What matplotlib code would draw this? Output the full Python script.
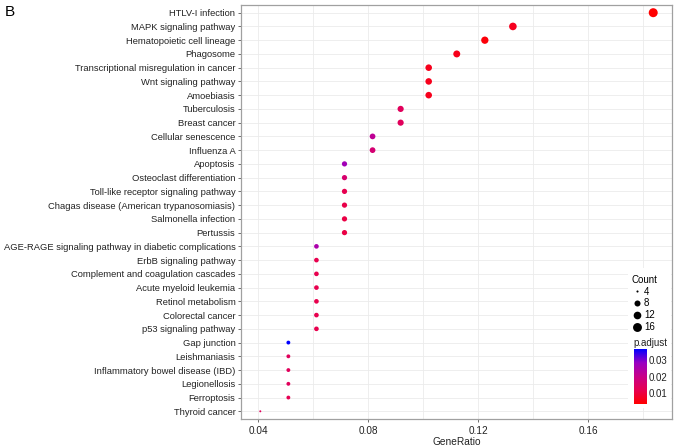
import numpy as np
import matplotlib
matplotlib.use("Agg")
from matplotlib import pyplot as plt
from matplotlib.colors import LinearSegmentedColormap, Normalize
from matplotlib.lines import Line2D

plt.rcParams['font.family'] = ['Liberation Sans', 'DejaVu Sans']

terms = ["HTLV-I infection", "MAPK signaling pathway", "Hematopoietic cell lineage",
         "Phagosome", "Transcriptional misregulation in cancer", "Wnt signaling pathway",
         "Amoebiasis", "Tuberculosis", "Breast cancer", "Cellular senescence",
         "Influenza A", "Apoptosis", "Osteoclast differentiation",
         "Toll-like receptor signaling pathway", "Chagas disease (American trypanosomiasis)",
         "Salmonella infection", "Pertussis",
         "AGE-RAGE signaling pathway in diabetic complications", "ErbB signaling pathway",
         "Complement and coagulation cascades", "Acute myeloid leukemia",
         "Retinol metabolism", "Colorectal cancer", "p53 signaling pathway",
         "Gap junction", "Leishmaniasis", "Inflammatory bowel disease (IBD)",
         "Legionellosis", "Ferroptosis", "Thyroid cancer"]
counts = [18, 13, 12, 11, 10, 10, 10, 9, 9, 8, 8, 7, 7, 7, 7, 7, 7,
          6, 6, 6, 6, 6, 6, 6, 5, 5, 5, 5, 5, 4]
gene_total = 98
p_adjust = [0.0033, 0.0066, 0.0043, 0.0060, 0.0063, 0.0063, 0.0063, 0.0133, 0.0133,
            0.0217, 0.0167, 0.0267, 0.0160, 0.0117, 0.0110, 0.0105, 0.0105,
            0.0250, 0.0115, 0.0115, 0.0115, 0.0115, 0.0115, 0.0115,
            0.0367, 0.0133, 0.0133, 0.0133, 0.0120, 0.0133]
size_breaks = [4, 8, 12, 16]
cbar_ticks = [0.01, 0.02, 0.03]

ratio = np.array(counts) / gene_total
cmap = LinearSegmentedColormap.from_list(
    "rb", ["#FF0000", "#E70050", "#C80088", "#9900C2", "#0000FF"])
norm = Normalize(vmin=min(p_adjust), vmax=max(p_adjust))


def dot_size(c):
    d_px = 2 + 7 * np.sqrt((np.asarray(c) - 4) / 14.0)
    return (d_px * 0.72) ** 2


fig = plt.figure(figsize=(6.77, 4.48), dpi=100)
ax = fig.add_axes([241 / 677, 1 - 419 / 448, 431 / 677, 414 / 448])

y = np.arange(len(terms))[::-1]
ax.scatter(ratio, y, s=dot_size(counts), c=p_adjust, cmap=cmap, norm=norm,
           linewidths=0, zorder=3)

ax.set_yticks(y)
ax.set_yticklabels(terms, fontsize=6.75, color='#222222')
ax.set_ylim(-0.56, len(terms) - 0.44)
ax.set_xlim(0.0338, 0.1905)
ax.set_xticks([0.04, 0.08, 0.12, 0.16])
ax.set_xticklabels(["0.04", "0.08", "0.12", "0.16"], fontsize=7.2, color='#222222')
ax.set_xticks([0.06, 0.10, 0.14, 0.18], minor=True)
ax.tick_params(axis='both', length=2.5, width=0.6, color='#555555', pad=1.5)
ax.tick_params(axis='x', which='minor', length=0)
ax.tick_params(axis='x', pad=2.5)
ax.grid(True, which='both', color='#EBEBEB', linewidth=0.6, zorder=0)
ax.set_axisbelow(True)
for sp in ax.spines.values():
    sp.set_color('#A0A0A0')
    sp.set_linewidth(0.9)
ax.set_xlabel("GeneRatio", fontsize=7.3, color='#222222', labelpad=0.5)

fig.text(5 / 677, 1 - 12 / 448, "B", fontsize=11, va='center', ha='left')

# white box behind the legends (covers grid lines)
ax.add_patch(plt.Rectangle((628 / 677, 1 - 408 / 448), 43 / 677, 140 / 448,
                           transform=fig.transFigure, facecolor='white',
                           edgecolor='none', zorder=4, clip_on=False))

# size legend
handles = [Line2D([], [], marker='o', linestyle='', color='black',
                  markersize=np.sqrt(dot_size(b)) * 1.05, markeredgewidth=0)
           for b in size_breaks]
leg = ax.legend(handles, [str(b) for b in size_breaks], title="Count",
                loc='upper left', bbox_to_anchor=(630 / 677, 1 - 273 / 448),
                bbox_transform=fig.transFigure, frameon=False, fontsize=7,
                title_fontsize=7, handlelength=1.0, handletextpad=0.25,
                labelspacing=0.18, borderpad=0.2, borderaxespad=0)
leg._legend_box.align = "left"
leg.set_zorder(5)

# colorbar legend
fig.text(633 / 677, 1 - 343 / 448, "p.adjust", fontsize=7, va='center', ha='left',
         color='#222222', zorder=6)
cax = fig.add_axes([634 / 677, 1 - 404 / 448, 13 / 677, 55 / 448])
sm = matplotlib.cm.ScalarMappable(norm=norm, cmap=cmap)
cb = fig.colorbar(sm, cax=cax, ticks=cbar_ticks)
cb.outline.set_visible(False)
cb.ax.tick_params(labelsize=7, length=0, pad=1, labelcolor='#222222')

fig.savefig("out.png", dpi=100)
